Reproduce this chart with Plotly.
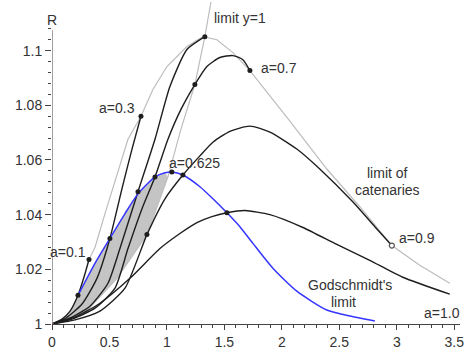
import plotly.graph_objects as go

# ---------------- data ----------------
a01_x = [0, 0.087, 0.157, 0.226, 0.278, 0.322]
a01_R = [1, 1.0018, 1.0047, 1.0105, 1.0171, 1.0236]

a03_x = [0, 0.122, 0.261, 0.391, 0.504, 0.609, 0.696, 0.774]
a03_R = [1, 1.0022, 1.0073, 1.0167, 1.0313, 1.0495, 1.0640, 1.0760]

a05_x = [0, 0.157, 0.330, 0.487, 0.591, 0.748, 0.896, 1.026, 1.174, 1.330]
a05_R = [1, 1.0022, 1.0065, 1.0149, 1.0276, 1.0484, 1.0676, 1.0869, 1.1004, 1.1051]

a07_x = [0, 0.174, 0.374, 0.548, 0.661, 0.783, 0.896, 1.009, 1.122, 1.243, 1.348, 1.461, 1.574, 1.661, 1.722]
a07_R = [1, 1.0018, 1.0058, 1.0131, 1.0276, 1.0422, 1.0538, 1.0676, 1.0785, 1.0876, 1.0942, 1.0975, 1.0982, 1.0967, 1.0927]

a09_x = [0, 0.2, 0.417, 0.635, 0.826, 0.983, 1.139, 1.287, 1.4, 1.548, 1.722, 1.896, 2.130, 2.330, 2.617, 2.809, 2.957]
a09_R = [1, 1.0015, 1.0047, 1.0131, 1.0327, 1.0458, 1.0545, 1.0615, 1.0665, 1.0705, 1.0724, 1.0702, 1.0640, 1.0567, 1.0447, 1.0356, 1.0287]

a10_x = [0, 0.2, 0.417, 0.678, 0.939, 1.113, 1.261, 1.391, 1.522, 1.678, 1.896, 2.183, 2.478, 2.765, 3.052, 3.461]
a10_R = [1, 1.0025, 1.0076, 1.0167, 1.0276, 1.0331, 1.0371, 1.0393, 1.0407, 1.0415, 1.0400, 1.0353, 1.0291, 1.0233, 1.0171, 1.0109]

# Goldschmidt's limit (blue)
gold_x = [0.226, 0.374, 0.504, 0.635, 0.748, 0.896, 0.983, 1.043, 1.139, 1.287, 1.4, 1.522, 1.635, 1.748, 1.922, 2.130, 2.391, 2.591, 2.809]
gold_R = [1.0105, 1.0222, 1.0313, 1.0404, 1.0476, 1.0538, 1.0553, 1.0556, 1.0545, 1.0502, 1.0458, 1.0407, 1.0356, 1.0295, 1.0204, 1.0120, 1.0051, 1.0029, 1.0011]

# limit of catenaries (envelope, light grey)
env_x = [0.322, 0.374, 0.461, 0.557, 0.661, 0.774, 0.878, 1.0, 1.174, 1.313, 1.435, 1.574, 1.722, 2.070, 2.391, 2.678, 2.957, 3.2, 3.461]
env_R = [1.0236, 1.0280, 1.0404, 1.0531, 1.0676, 1.0760, 1.0858, 1.0942, 1.1015, 1.1051, 1.1040, 1.0993, 1.0927, 1.0742, 1.0567, 1.0429, 1.0287, 1.0215, 1.0149]

# limit y=1 (light grey)
lim_x = [0, 0.270, 0.565, 0.826, 1.009, 1.122, 1.243, 1.330, 1.383]
lim_R = [1, 1.0033, 1.0167, 1.0327, 1.0538, 1.0713, 1.0876, 1.1051, 1.1178]

# marked points
dot_x = [0.226, 0.322, 0.504, 0.748, 0.774, 0.896, 1.043, 1.139, 1.522, 0.826, 1.243, 1.330, 1.722]
dot_R = [1.0105, 1.0236, 1.0313, 1.0484, 1.0760, 1.0538, 1.0556, 1.0545, 1.0407, 1.0327, 1.0876, 1.1051, 1.0927]
open_x = [2.957]
open_R = [1.0287]

# axis ticks
xtick_vals = [0, 0.5, 1, 1.5, 2, 2.5, 3, 3.5]
xtick_text = ["0", "0.5", "1", "1.5", "2", "2.5", "3", "3.5"]
ytick_vals = [1, 1.02, 1.04, 1.06, 1.08, 1.1]
ytick_text = ["1", "1.02", "1.04", "1.06", "1.08", "1.1"]

# labels: (text, x, R, xanchor)
labels = [
    ("a=0.1", 0.313, 1.0262, "right"),
    ("a=0.3", 0.739, 1.0789, "right"),
    ("a=0.625", 1.0, 1.0589, "left"),
    ("limit y=1", 1.391, 1.1120, "left"),
    ("a=0.7", 1.80, 1.0935, "left"),
    ("limit of", 2.922, 1.0553, "center"),
    ("catenaries", 2.922, 1.0491, "center"),
    ("a=0.9", 3.0, 1.0313, "left"),
    ("Godschmidt's", 2.591, 1.0142, "center"),
    ("limit", 2.539, 1.0080, "center"),
    ("a=1.0", 3.391, 1.0040, "center"),
    ("R", 0.0, 1.1113, "center"),
]

FONT = "Liberation Sans, Arial, sans-serif"
TXT = "#333333"
BLACK = "#1e1e1e"
LGRAY = "#bdbdbd"
BLUE = "#3535ff"

fig = go.Figure()

# grey shaded region: a=0.1 start -> Goldschmidt up to meeting point -> limit y=1 back down
fill_x = a01_x[:4] + gold_x[1:7] + lim_x[4::-1]
fill_R = a01_R[:4] + gold_R[1:7] + lim_R[4::-1]
fig.add_trace(go.Scatter(x=fill_x, y=fill_R, mode="lines", fill="toself",
                         fillcolor="#c4c4c4", line=dict(width=0), hoverinfo="skip"))

# light grey limits
fig.add_trace(go.Scatter(x=lim_x, y=lim_R, mode="lines", line=dict(color=LGRAY, width=1.2)))
fig.add_trace(go.Scatter(x=env_x, y=env_R, mode="lines", line=dict(color=LGRAY, width=1.2)))

# catenary curves
for cx, cr in [(a01_x, a01_R), (a03_x, a03_R), (a05_x, a05_R), (a07_x, a07_R),
               (a09_x, a09_R), (a10_x, a10_R)]:
    fig.add_trace(go.Scatter(x=cx, y=cr, mode="lines", line=dict(color=BLACK, width=1.4, shape="spline", smoothing=0.6)))

# Goldschmidt's limit
fig.add_trace(go.Scatter(x=gold_x, y=gold_R, mode="lines", line=dict(color=BLUE, width=1.5, shape="spline", smoothing=0.6)))

# dots
fig.add_trace(go.Scatter(x=dot_x, y=dot_R, mode="markers", marker=dict(color=BLACK, size=5)))
fig.add_trace(go.Scatter(x=open_x, y=open_R, mode="markers",
                         marker=dict(color="white", size=5, line=dict(color="#555555", width=1.2))))
fig.add_trace(go.Scatter(x=[0], y=[1], mode="markers", marker=dict(color="#ff6a6a", size=3)))

for text, lx, ly, xa in labels:
    fig.add_annotation(x=lx, y=ly, text=text, showarrow=False, xanchor=xa, yanchor="middle",
                       font=dict(family=FONT, size=14, color=TXT))

# y axis line
fig.add_shape(type="line", x0=0, x1=0, y0=1, y1=1.1075, line=dict(color="#444444", width=1), layer="above")

fig.update_layout(
    width=467, height=352,
    margin=dict(l=52, r=7, t=2, b=26),
    paper_bgcolor="white", plot_bgcolor="white",
    showlegend=False,
    font=dict(family=FONT, size=14, color=TXT),
    xaxis=dict(range=[0, 3.55], showgrid=False, zeroline=False,
               showline=True, linecolor="#444444", linewidth=1,
               tickmode="array", tickvals=xtick_vals, ticktext=xtick_text,
               ticks="outside", ticklen=5, tickcolor="#444444", ticklabelstandoff=0,
               minor=dict(tickmode="array", tickvals=[round(0.1 * i, 2) for i in range(36)],
                          ticks="outside", ticklen=3, tickcolor="#444444"),
               tickfont=dict(family=FONT, size=14, color=TXT)),
    yaxis=dict(range=[1, 1.1178], showgrid=False, zeroline=False, showline=False,
               tickmode="array", tickvals=ytick_vals, ticktext=ytick_text,
               ticks="outside", ticklen=6, tickcolor="#444444",
               minor=dict(tickmode="array", tickvals=[round(1 + 0.004 * i, 3) for i in range(28)],
                          ticks="outside", ticklen=3, tickcolor="#444444"),
               tickfont=dict(family=FONT, size=14, color=TXT)),
)

fig.write_html("out.html", config={"displayModeBar": False},
               post_script="document.body.style.margin='0';document.body.style.overflow='hidden';")
